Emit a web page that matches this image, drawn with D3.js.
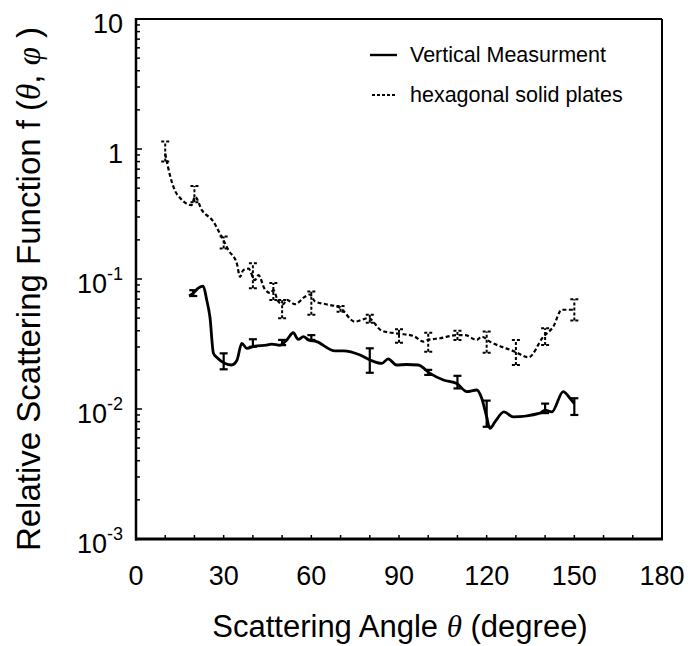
<!DOCTYPE html>
<html>
<head>
<meta charset="utf-8">
<script src="https://cdn.jsdelivr.net/npm/d3@7"></script>
<style>
  body { margin: 0; background: #fff; }
  svg { font-family: "Liberation Sans", Arial, sans-serif; }
</style>
</head>
<body>
<svg width="688" height="646"></svg>
<script>
// angle (deg) / value pairs
const vertAngle = [18.2, 19.6, 21.3, 23, 24.2, 25.3, 26.5, 27.6, 30.5, 32.7, 34.5, 36.2, 37.9, 40.7, 44.7, 46.4, 49.3, 51.6, 53.8, 55.5, 57.3, 59, 61.8, 68.1, 71, 76.7, 80.1, 84.1, 86.3, 89.2, 92.6, 96.6, 100.6, 105.2, 109.8, 113.2, 116.6, 118.3, 120, 121.1, 122.9, 125.9, 129.1, 138.3, 140, 142.3, 146.2, 148.5, 150];
const vertValue = [0.074, 0.078, 0.085, 0.088, 0.069, 0.051, 0.0268, 0.025, 0.0224, 0.0218, 0.0236, 0.032, 0.0293, 0.0305, 0.031, 0.0316, 0.031, 0.034, 0.0386, 0.0343, 0.036, 0.034, 0.033, 0.028, 0.028, 0.026, 0.0238, 0.0224, 0.0243, 0.0218, 0.022, 0.0218, 0.0188, 0.0167, 0.0157, 0.0136, 0.014, 0.0121, 0.0087, 0.0071, 0.008, 0.0095, 0.0087, 0.0093, 0.0098, 0.0095, 0.0136, 0.0121, 0.011];

const hexAngle = [10, 11.6, 13.3, 15.1, 17.3, 19, 20.2, 22.5, 26.5, 28.7, 30.1, 31.6, 34.5, 35.6, 36.7, 38.5, 40.7, 41.9, 44, 46, 47, 48.7, 50.4, 51.6, 54.4, 57.8, 59.5, 61.3, 65, 69.8, 74.9, 79.5, 84.1, 89.8, 94.9, 98.3, 100, 104, 109.8, 112.6, 116.6, 118.3, 121.1, 129.7, 134.3, 139.4, 142.8, 145.7, 150];
const hexValue = [0.92, 0.63, 0.48, 0.42, 0.38, 0.37, 0.43, 0.34, 0.276, 0.224, 0.195, 0.167, 0.132, 0.104, 0.117, 0.12, 0.098, 0.107, 0.084, 0.078, 0.082, 0.067, 0.064, 0.069, 0.064, 0.073, 0.076, 0.067, 0.064, 0.06, 0.047, 0.05, 0.04, 0.038, 0.0365, 0.033, 0.034, 0.035, 0.037, 0.037, 0.034, 0.036, 0.033, 0.0276, 0.025, 0.036, 0.043, 0.058, 0.058];

// error bars: angle, low, high
const vertErrAngle = [19.6, 30, 40, 50, 60, 80, 100, 110, 120, 140, 150];
const vertErrLow = [0.074, 0.0202, 0.0301, 0.031, 0.034, 0.019, 0.0183, 0.0144, 0.0073, 0.0093, 0.009];
const vertErrHigh = [0.082, 0.0268, 0.0344, 0.034, 0.037, 0.0293, 0.020, 0.018, 0.0116, 0.011, 0.0121];

const hexErrAngle = [10, 20, 30, 40, 47, 50, 60, 70, 80, 90, 100, 110, 120, 130, 140, 150];
const hexErrLow = [0.80, 0.39, 0.172, 0.085, 0.069, 0.050, 0.053, 0.056, 0.046, 0.0324, 0.0276, 0.034, 0.0271, 0.0218, 0.031, 0.048];
const hexErrHigh = [1.14, 0.52, 0.212, 0.132, 0.093, 0.069, 0.080, 0.062, 0.053, 0.041, 0.0386, 0.040, 0.0395, 0.034, 0.0418, 0.070];

const xTicks = [0, 30, 60, 90, 120, 150, 180];
const yTicks = [10, 1, 0.1, 0.01, 0.001];
const yTickExp = [null, null, "-1", "-2", "-3"];

const seriesNames = ["Vertical Measurment", "hexagonal solid plates"];

const svg = d3.select("svg");
const pLeft = 136, pRight = 662, pTop = 19, pBottom = 539;

const x = d3.scaleLinear().domain([0, 180]).range([pLeft, pRight]);
const y = d3.scaleLog().domain([1e-3, 10]).range([pBottom, pTop]);

// frame
svg.append("line").attr("x1", pLeft).attr("x2", pRight).attr("y1", pTop).attr("y2", pTop)
    .attr("stroke", "#000").attr("stroke-width", 2);
svg.append("line").attr("x1", pRight).attr("x2", pRight).attr("y1", pTop).attr("y2", pBottom)
    .attr("stroke", "#000").attr("stroke-width", 2);

// minor y ticks (inside)
const yMinor = [];
[0.001, 0.01, 0.1, 1].forEach(b => { for (let k = 1; k <= 9; k++) yMinor.push(b * k); });
yMinor.push(10);
svg.selectAll(".ytick").data(yMinor).enter().append("line")
    .attr("x1", pLeft).attr("x2", d => pLeft + (yTicks.includes(+d.toPrecision(3)) ? 6 : 4))
    .attr("y1", d => y(d)).attr("y2", d => y(d))
    .attr("stroke", "#000").attr("stroke-width", 1.5);

// x ticks every 10 deg (inside)
svg.selectAll(".xtick").data(d3.range(0, 181, 10)).enter().append("line")
    .attr("x1", d => x(d)).attr("x2", d => x(d))
    .attr("y1", pBottom).attr("y2", pBottom - 4)
    .attr("stroke", "#000").attr("stroke-width", 1.5);

// axis lines
svg.append("line").attr("x1", pLeft).attr("x2", pLeft).attr("y1", pTop - 1).attr("y2", pBottom + 1.5)
    .attr("stroke", "#000").attr("stroke-width", 2.5);
svg.append("line").attr("x1", pLeft - 1).attr("x2", pRight + 1).attr("y1", pBottom).attr("y2", pBottom)
    .attr("stroke", "#000").attr("stroke-width", 3);

// tick labels
svg.selectAll(".xlab").data(xTicks).enter().append("text")
    .attr("x", d => x(d)).attr("y", 585)
    .attr("text-anchor", "middle").attr("font-size", 27)
    .text(d => d);

const yl = svg.selectAll(".ylab").data(yTicks).enter().append("text")
    .attr("x", 123).attr("y", d => y(d) + 14)
    .attr("text-anchor", "end").attr("font-size", 27);
yl.each(function(d, i) {
    const t = d3.select(this);
    if (yTickExp[i] === null) {
        t.text(d);
    } else {
        t.append("tspan").text("10");
        t.append("tspan").attr("dy", -13).attr("font-size", 18).text(yTickExp[i]);
    }
});

// axis titles
const xt = svg.append("text").attr("x", 400).attr("y", 637)
    .attr("text-anchor", "middle").attr("font-size", 31);
xt.append("tspan").text("Scattering Angle ");
xt.append("tspan").attr("font-family", "Liberation Serif").attr("font-style", "italic").text("\u03b8");
xt.append("tspan").text(" (degree)");

const yt = svg.append("text")
    .attr("transform", "translate(40,289) rotate(-90)")
    .attr("text-anchor", "middle").attr("font-size", 33);
yt.append("tspan").text("Relative Scattering Function f (");
yt.append("tspan").attr("font-family", "Liberation Serif").attr("font-style", "italic").text("\u03b8");
yt.append("tspan").text(",  ");
yt.append("tspan").attr("font-family", "Liberation Serif").attr("font-style", "italic").text("\u03c6");
yt.append("tspan").text(" )");

// lines
const line = d3.line().x(d => x(d[0])).y(d => y(d[1])).curve(d3.curveMonotoneX);

svg.append("path").datum(d3.zip(hexAngle, hexValue))
    .attr("d", line).attr("fill", "none").attr("stroke", "#000")
    .attr("stroke-width", 2.2).attr("stroke-dasharray", "4,2.5");

svg.append("path").datum(d3.zip(vertAngle, vertValue))
    .attr("d", line).attr("fill", "none").attr("stroke", "#000")
    .attr("stroke-width", 2.8);

// error bars
function errorBars(angles, lows, highs, dash, width) {
    const g = svg.append("g").attr("stroke", "#000").attr("stroke-width", width)
        .attr("fill", "none");
    const data = d3.zip(angles, lows, highs);
    g.selectAll(".v").data(data).enter().append("line")
        .attr("x1", d => x(d[0])).attr("x2", d => x(d[0]))
        .attr("y1", d => y(d[1])).attr("y2", d => y(d[2]))
        .attr("stroke-dasharray", dash);
    g.selectAll(".lo").data(data).enter().append("line")
        .attr("x1", d => x(d[0]) - 4).attr("x2", d => x(d[0]) + 4)
        .attr("y1", d => y(d[1])).attr("y2", d => y(d[1]))
        .attr("stroke-dasharray", dash ? "3,2" : null);
    g.selectAll(".hi").data(data).enter().append("line")
        .attr("x1", d => x(d[0]) - 4).attr("x2", d => x(d[0]) + 4)
        .attr("y1", d => y(d[2])).attr("y2", d => y(d[2]))
        .attr("stroke-dasharray", dash ? "3,2" : null);
}
errorBars(hexErrAngle, hexErrLow, hexErrHigh, "3,2", 2);
errorBars(vertErrAngle, vertErrLow, vertErrHigh, null, 2.2);

// legend
const legend = svg.append("g");
legend.append("line").attr("x1", 370).attr("x2", 397).attr("y1", 55).attr("y2", 55)
    .attr("stroke", "#000").attr("stroke-width", 2.4);
legend.append("line").attr("x1", 372).attr("x2", 397).attr("y1", 95).attr("y2", 95)
    .attr("stroke", "#000").attr("stroke-width", 2).attr("stroke-dasharray", "3,2");
legend.selectAll("text").data(seriesNames).enter().append("text")
    .attr("x", 410).attr("y", (d, i) => 62 + i * 40)
    .attr("font-size", 21.5).text(d => d);
</script>
</body>
</html>
